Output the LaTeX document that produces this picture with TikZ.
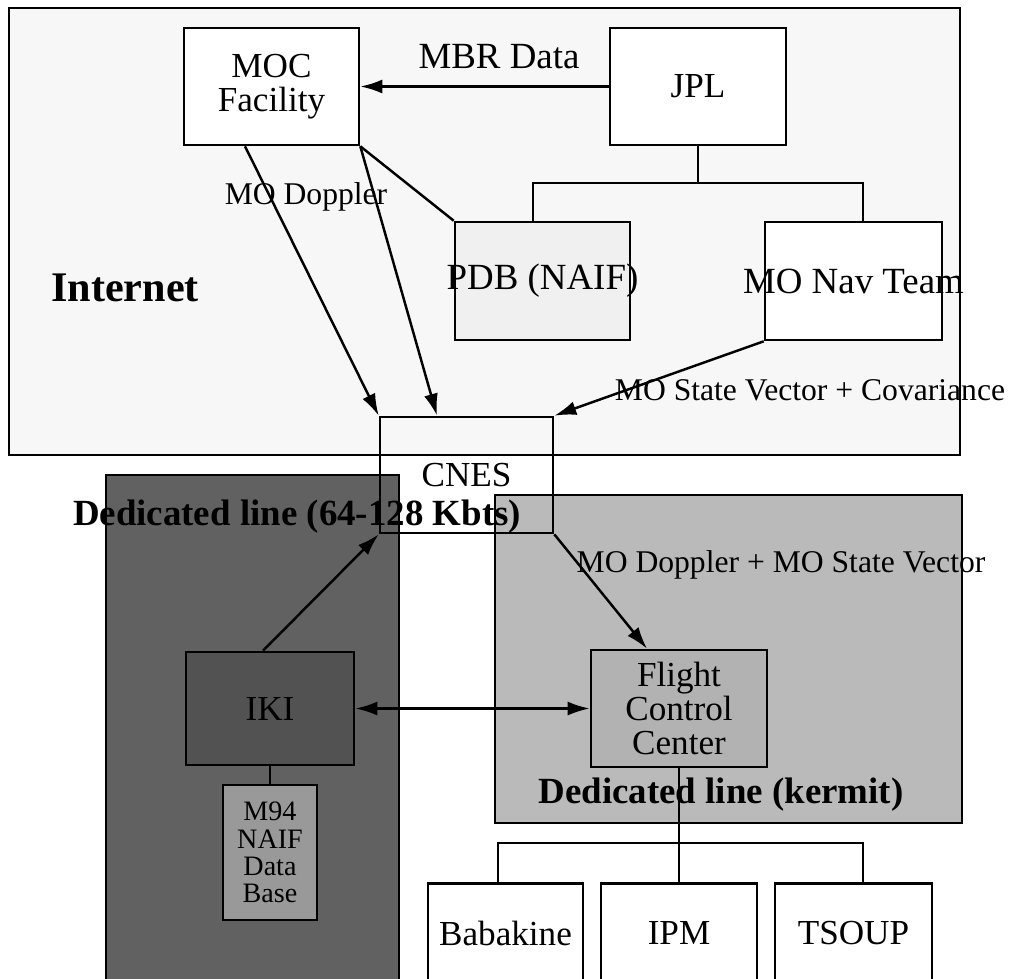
\documentclass[tikz,border=0pt]{standalone}
\usepackage{fontspec}
\setmainfont{Liberation Serif}
\usetikzlibrary{arrows.meta, positioning, calc}

\begin{document}
\begin{tikzpicture}[
    x=0.02cm, y=-0.02cm,
    site/.style = {
        rectangle, draw=black, line width=1.5pt,
        align=center, inner sep=0pt,
        font=\fontsize{20}{19.5}\selectfont
    },
    region/.style = {draw=black, line width=1.6pt},
    flowtext/.style = {inner sep=0pt, font=\fontsize{18}{18}\selectfont},
    zonetext/.style = {inner sep=0pt, font=\fontsize{21}{21}\selectfont\bfseries},
    arrow/.style = {-{Latex[length=4.4mm, width=2.8mm]}, line width=1.4pt},
    twoway/.style = {{Latex[length=4.4mm, width=2.8mm]}-{Latex[length=4.4mm, width=2.8mm]}, line width=1.4pt},
    link/.style = {line width=1.4pt}
]
\useasboundingbox (0,0) rectangle (1011,978);

% Zonas
\draw[region, fill=black!3]  (9,8)     rectangle (960,455);
\draw[region, fill=black!62] (106,475) rectangle (399,1000);
\draw[region, fill=black!27] (495,495) rectangle (962,823);

\node[inner sep=0pt, font=\fontsize{24}{24}\selectfont\bfseries] (internet) at (125,288) {Internet};
\node[zonetext] (dl64)     at (297,517) {Dedicated line (64-128 Kbts)};
\node[zonetext] (dlkermit) at (721,795) {Dedicated line (kermit)};

% Internet
\node[site, fill=white, minimum width=3.5cm, minimum height=2.34cm] (moc) at (271.5,86.5) {MOC\\Facility};
\node[site, fill=white, minimum width=3.52cm, minimum height=2.34cm] (jpl) at (698,86.5) {JPL};
\node[site, fill=black!6, minimum width=3.5cm, minimum height=2.36cm] (pdb) at (542.5,281) {\makebox[0pt]{\fontsize{21}{21}\selectfont PDB (NAIF)}};
\node[site, fill=white, minimum width=3.54cm, minimum height=2.36cm] (nav) at (853.5,281) {\makebox[0pt]{\fontsize{21}{21}\selectfont MO Nav Team}};

% Linea dedicada
\node[site, fill=black!68, minimum width=3.36cm, minimum height=2.26cm] (iki) at (270,708.5) {IKI};
\node[site, fill=black!40, minimum width=1.88cm, minimum height=2.7cm,
      font=\fontsize{16}{15.5}\selectfont] (m94) at (270,852.5) {M94\\NAIF\\Data\\Base};
\node[site, fill=black!30, minimum width=3.52cm, minimum height=2.34cm] (fcc) at (679,708.5) {Flight\\Control\\Center};

\node[site, fill=white, minimum width=3.1cm, minimum height=2cm, anchor=north] (babakine) at (505.5,882) {Babakine};
\node[site, fill=white, minimum width=3.12cm, minimum height=2cm, anchor=north] (ipm) at (679,882) {IPM};
\node[site, fill=white, minimum width=3.14cm, minimum height=2cm, anchor=north] (tsoup) at (853.5,882) {TSOUP};

% CNES
\node[site, minimum width=3.46cm, minimum height=2.32cm] (cnes) at (466.5,475) {CNES};

\coordinate (jfork) at (698,183);
\coordinate (ffork) at (679,843);

% Flechas
\draw[arrow] (jpl) -- (moc);
\draw[link]  (jpl) -- (jfork);
\draw[link]  ([xshift=-1.9mm]pdb.north) |- (jfork) -| ([xshift=1.9mm]nav.north);
\draw[link]  (moc.south east) -- (pdb.north west);
\draw[arrow] ([xshift=-5.3mm]moc.south) -- (cnes.north west);
\draw[arrow] (moc.south east) -- ([xshift=-5.9mm]cnes.north);
\draw[arrow] (nav.south west) -- (cnes.north east);
\draw[arrow] ([xshift=-1.4mm]iki.north) -- (cnes.south west);
\draw[arrow] (cnes.south east) -- ([xshift=-6.4mm]fcc.north);
\draw[twoway] (iki) -- (fcc);
\draw[link]  (iki) -- (m94);
\draw[link]  (fcc) -- (ipm);
\draw[link]  ([xshift=-1.5mm]babakine.north) |- (ffork) -| ([xshift=1.9mm]tsoup.north);

% Etiquetas
\node[flowtext, font=\fontsize{21}{21}\selectfont] (mbr) at (499,57) {MBR Data};
\node[flowtext] (mod)  at (306,197) {MO Doppler};
\node[flowtext] (msv)  at (810,390) {MO State Vector + Covariance};
\node[flowtext] (mdsv) at (781,565) {MO Doppler + MO State Vector};

\end{tikzpicture}
\end{document}
